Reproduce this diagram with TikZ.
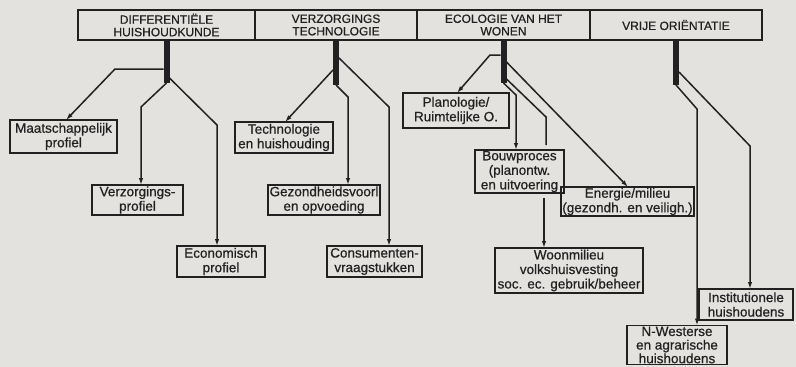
\documentclass[tikz,border=0pt]{standalone}
\usepackage{fontspec}
\setmainfont{Liberation Sans}[FakeBold=0.6]
\usetikzlibrary{arrows.meta}
\definecolor{paperbg}{RGB}{228,226,223}
\definecolor{inkdark}{RGB}{34,32,32}

\begin{document}
\begin{tikzpicture}[x=1pt, y=-1pt,
  every node/.style={font=\fontsize{13.5}{14.5}\selectfont, text=inkdark, align=center, inner sep=1pt, outer sep=0pt},
  topcell/.style={draw=inkdark, line width=2pt, minimum height=30pt, font=\fontsize{12}{12.5}\selectfont},
  leafbox/.style={draw=inkdark, line width=1.8pt},
  stembar/.style={fill=inkdark, minimum width=6pt, inner sep=0pt, anchor=north},
  link/.style={draw=inkdark, line width=1.5pt},
  linkarr/.style={link, -{Latex[length=7pt,width=4.5pt]}}]
  \fill[paperbg] (0,0) rectangle (796,367);
  \useasboundingbox (0,0) rectangle (796,367);

  \node[topcell, minimum width=177pt] (c1) at (166.5,25) {DIFFERENTIËLE\\HUISHOUDKUNDE};
  \node[topcell, minimum width=162pt] (c2) at (336,25) {VERZORGINGS\\TECHNOLOGIE};
  \node[topcell, minimum width=173pt] (c3) at (503.5,25) {ECOLOGIE VAN HET\\WONEN};
  \node[topcell, minimum width=172pt] (c4) at (676,25) {VRIJE ORIËNTATIE};

  \node[stembar, minimum height=43pt] (st1) at (c1.south) {};
  \node[stembar, minimum height=45pt] (st2) at (c2.south) {};
  \node[stembar, minimum height=43pt] (st3) at (c3.south) {};
  \node[stembar, minimum height=45pt] (st4) at (c4.south) {};

  \node[leafbox, minimum width=107pt, minimum height=33pt] (maat) at (63.5,136.5) {Maatschappelijk\\profiel};
  \node[leafbox, minimum width=91pt, minimum height=30pt] (verz) at (137.5,200) {Verzorgings-\\profiel};
  \node[leafbox, minimum width=88pt, minimum height=31pt] (econ) at (221,261.5) {Economisch\\profiel};
  \node[leafbox, minimum width=98pt, minimum height=31pt] (tech) at (284,137.5) {Technologie\\en huishouding};
  \node[leafbox, minimum width=112pt, minimum height=30pt] (gezond) at (324,200) {Gezondheidsvoorl\\en opvoeding};
  \node[leafbox, minimum width=95pt, minimum height=31pt] (consu) at (374.5,261.5) {Consumenten-\\vraagstukken};
  \node[leafbox, minimum width=106pt, minimum height=35pt] (plan) at (456,110.5) {Planologie/\\Ruimtelijke O.};
  \node[leafbox, minimum width=89pt, minimum height=41pt, anchor=north] (bouw) at (519.5,150) {Bouwproces\\(planontw.\\en uitvoering};
  \node[leafbox, minimum width=129pt, minimum height=29pt] (energ) at (627.5,201.5) {Energie/milieu\\(gezondh. en veiligh.)};
  \node[leafbox, minimum width=148pt, minimum height=45pt] (woon) at (569,270.5) {Woonmilieu\\volkshuisvesting\\soc. ec. gebruik/beheer};
  \node[leafbox, minimum width=100pt, minimum height=39pt, anchor=north, inner sep=0.3pt, font=\fontsize{13.5}{13.6}\selectfont] (nwest) at (677,325.5) {N-Westerse\\en agrarische\\huishoudens};
  \node[leafbox, minimum width=94pt, minimum height=31pt] (inst) at (746,304.5) {Institutionele\\huishoudens};

  \draw[linkarr] (st1.west |- 0,69) -- (115,69) -- (maat.north -| 66,0);
  \draw[linkarr] (st1.south) -- (141,107) -- (verz.north -| 141,0);
  \draw[linkarr] (st1.east |- 0,78) -- (217,125) -- (econ.north -| 217,0);

  \draw[linkarr] (st2.west |- 0,70) -- (tech.north -| 285,0);
  \draw[linkarr] (st2.south) -- (348,97) -- (gezond.north -| 348,0);
  \draw[linkarr] (st2.east |- 0,58) -- (389,107) -- (consu.north -| 389,0);

  \draw[linkarr] (st3.west |- 0,55) -- (490,55) -- (plan.north -| 457,0);
  \draw[linkarr] (st3.south) -- (516,95) -- (bouw.north -| 516,0);
  \draw[link, shorten >=5pt] (st3.east |- 0,79) -- (546,117) -- (bouw.north -| 546,0);
  \draw[linkarr] (st3.east |- 0,62) -- (energ.north -| 628,0);
  \draw[linkarr, shorten <=5pt] (bouw.south -| 544,0) -- (woon.north -| 544,0);

  \draw[linkarr] (st4.south) -- (697,109) -- (nwest.north -| 697,0);
  \draw[linkarr] (st4.east |- 0,72) -- (750,146) -- (inst.north -| 750,0);
\end{tikzpicture}
\end{document}
